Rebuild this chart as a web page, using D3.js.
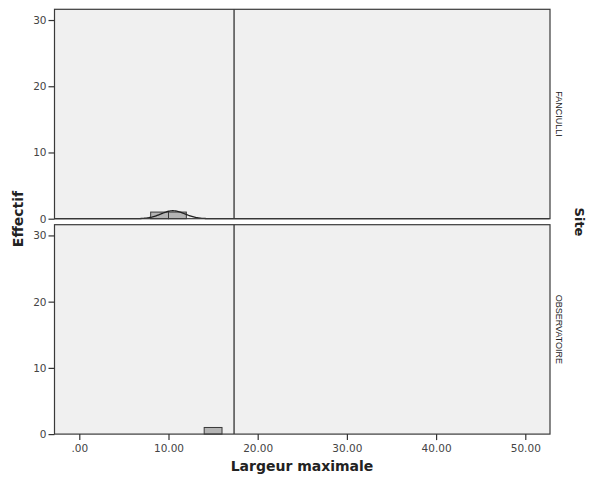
<!DOCTYPE html>
<html><head><meta charset="utf-8">
<script src="https://cdn.jsdelivr.net/npm/d3@7"></script>
<style>body{margin:0;background:#fff}svg{display:block}</style>
</head><body>
<script>
// Data
const panels = ["FANCIULLI", "OBSERVATOIRE"];
const binStarts = { FANCIULLI: [8, 10], OBSERVATOIRE: [14] };
const binCounts = { FANCIULLI: [1, 1], OBSERVATOIRE: [1] };
const binWidth = 2;
const normalFit = { FANCIULLI: { mean: 10.5, sd: 1.33, n: 2 } };
const meanLine = 17.35;
const xTicks = [0, 10, 20, 30, 40, 50];
const yTicks = [0, 10, 20, 30];
const xTitle = "Largeur maximale";
const yTitle = "Effectif";
const stripTitle = "Site";

const W = 596, H = 479;
const svg = d3.select("body").append("svg").attr("width", W).attr("height", H);
const left = 54.5, right = 550;
const panelTops = [9.3, 224.7], panelH = 209.4;

const x = d3.scaleLinear().domain([-2.78, 52.77]).range([left, right]);
const font = "'DejaVu Sans', sans-serif";

panels.forEach((p, i) => {
  const top = panelTops[i];
  const y = d3.scaleLinear().domain([0, 31.62]).range([top + panelH, top]);
  const g = svg.append("g");
  g.append("rect").attr("x", left).attr("y", top).attr("width", right - left).attr("height", panelH)
    .attr("fill", "#f0f0f0");
  // bars
  g.selectAll("rect.bar").data(binStarts[p].map((s, k) => ({ s, c: binCounts[p][k] })))
    .enter().append("rect").attr("class", "bar")
    .attr("x", d => x(d.s)).attr("width", d => x(d.s + binWidth) - x(d.s))
    .attr("y", d => y(d.c)).attr("height", d => y(0) - y(d.c))
    .attr("fill", "#b4b4b4").attr("stroke", "#3a3a3a").attr("stroke-width", 1);
  // normal curve
  const nf = normalFit[p];
  if (nf) {
    const pts = d3.range(-2.78, 52.77, 0.1).map(v => [v,
      nf.n * binWidth / (nf.sd * Math.sqrt(2 * Math.PI)) * Math.exp(-0.5 * ((v - nf.mean) / nf.sd) ** 2)]);
    g.append("path").datum(pts)
      .attr("d", d3.line().x(d => x(d[0])).y(d => y(d[1])))
      .attr("fill", "none").attr("stroke", "#222").attr("stroke-width", 1.3);
  }
  // mean line
  g.append("line").attr("x1", x(meanLine)).attr("x2", x(meanLine)).attr("y1", top).attr("y2", top + panelH)
    .attr("stroke", "#222").attr("stroke-width", 1.2);
  // border
  g.append("rect").attr("x", left).attr("y", top).attr("width", right - left).attr("height", panelH)
    .attr("fill", "none").attr("stroke", "#3a3a3a").attr("stroke-width", 1.2);
  // y axis
  const ya = d3.axisLeft(y).tickValues(yTicks).tickFormat(d3.format("d")).tickSize(6).tickPadding(2);
  const yg = svg.append("g").attr("transform", `translate(${left},0)`).call(ya);
  yg.select(".domain").remove();
  yg.selectAll("line").attr("stroke", "#333").attr("stroke-width", 1.2);
  yg.selectAll("text").attr("font-family", font).attr("font-size", 10.5).attr("fill", "#444");
  // strip label
  svg.append("text").attr("transform", `translate(${right + 9},${top + panelH / 2}) rotate(90)`)
    .attr("text-anchor", "middle").attr("dy", "0.35em")
    .attr("font-family", "'Liberation Sans', Arial, sans-serif").attr("font-size", 9)
    .attr("fill", "#222").text(p);
});

// x axis
const xa = d3.axisBottom(x).tickValues(xTicks).tickFormat(d => d === 0 ? ".00" : d3.format(".2f")(d))
  .tickSize(6).tickPadding(4);
const xg = svg.append("g").attr("transform", `translate(0,${panelTops[1] + panelH})`).call(xa);
xg.select(".domain").remove();
xg.selectAll("line").attr("stroke", "#333").attr("stroke-width", 1.2);
xg.selectAll("text").attr("font-family", font).attr("font-size", 10.5).attr("fill", "#444");

// titles
svg.append("text").attr("x", 302).attr("y", 471).attr("text-anchor", "middle")
  .attr("font-family", font).attr("font-weight", "bold").attr("font-size", 14).attr("fill", "#222").text(xTitle);
svg.append("text").attr("transform", "translate(18,219) rotate(-90)").attr("text-anchor", "middle").attr("dy", "0.35em")
  .attr("font-family", font).attr("font-weight", "bold").attr("font-size", 14).attr("fill", "#222").text(yTitle);
svg.append("text").attr("transform", "translate(580,222) rotate(90)").attr("text-anchor", "middle").attr("dy", "0.35em")
  .attr("font-family", font).attr("font-weight", "bold").attr("font-size", 13).attr("fill", "#222").text(stripTitle);
</script>
</body></html>
